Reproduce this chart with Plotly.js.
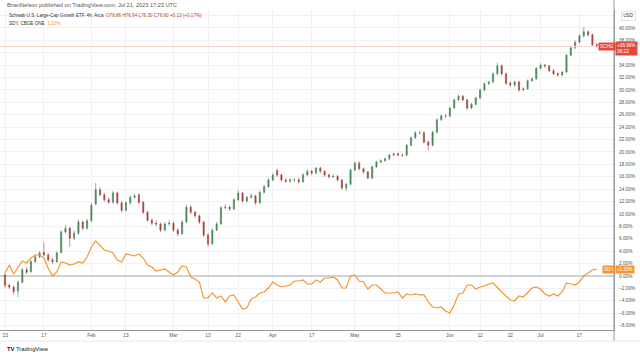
<!DOCTYPE html>
<html><head><meta charset="utf-8">
<script src="https://cdn.plot.ly/plotly-3.0.1.min.js"></script>
<style>html,body{margin:0;padding:0;background:#fff}#chart{width:640px;height:355px}</style>
</head><body><div id="chart"></div>
<script>
const dates = [
'2023-01-03','2023-01-04','2023-01-05','2023-01-06','2023-01-09','2023-01-10','2023-01-11','2023-01-12','2023-01-13','2023-01-17',
'2023-01-18','2023-01-19','2023-01-20','2023-01-23','2023-01-24','2023-01-25','2023-01-26','2023-01-27','2023-01-30','2023-01-31',
'2023-02-01','2023-02-02','2023-02-03','2023-02-06','2023-02-07','2023-02-08','2023-02-09','2023-02-10','2023-02-13','2023-02-14',
'2023-02-15','2023-02-16','2023-02-17','2023-02-21','2023-02-22','2023-02-23','2023-02-24','2023-02-27','2023-02-28',
'2023-03-01','2023-03-02','2023-03-03','2023-03-06','2023-03-07','2023-03-08','2023-03-09','2023-03-10','2023-03-13','2023-03-14',
'2023-03-15','2023-03-16','2023-03-17','2023-03-20','2023-03-21','2023-03-22','2023-03-23','2023-03-24','2023-03-27','2023-03-28',
'2023-03-29','2023-03-30','2023-03-31',
'2023-04-03','2023-04-04','2023-04-05','2023-04-06','2023-04-10','2023-04-11','2023-04-12','2023-04-13','2023-04-14','2023-04-17',
'2023-04-18','2023-04-19','2023-04-20','2023-04-21','2023-04-24','2023-04-25','2023-04-26','2023-04-27','2023-04-28',
'2023-05-01','2023-05-02','2023-05-03','2023-05-04','2023-05-05','2023-05-08','2023-05-09','2023-05-10','2023-05-11','2023-05-12',
'2023-05-15','2023-05-16','2023-05-17','2023-05-18','2023-05-19','2023-05-22','2023-05-23','2023-05-24','2023-05-25','2023-05-26',
'2023-05-30','2023-05-31',
'2023-06-01','2023-06-02','2023-06-05','2023-06-06','2023-06-07','2023-06-08','2023-06-09','2023-06-12','2023-06-13','2023-06-14',
'2023-06-15','2023-06-16','2023-06-20','2023-06-21','2023-06-22','2023-06-23','2023-06-26','2023-06-27','2023-06-28','2023-06-29',
'2023-06-30',
'2023-07-03','2023-07-05','2023-07-06','2023-07-07','2023-07-10','2023-07-11','2023-07-12','2023-07-13','2023-07-14','2023-07-17',
'2023-07-18','2023-07-19','2023-07-20','2023-07-21'];

const schgOpen = [
0.2,-1.5,-1.8,-2.4,-1.0,1.0,0.7,2.3,3.1,3.8,
3.4,2.6,2.3,3.8,7.1,7.7,6.1,6.9,8.7,7.7,
8.9,11.6,13.9,13.1,12.3,11.9,13.4,11.8,10.6,11.8,
12.7,13.1,11.9,10.3,9.0,8.5,8.4,7.4,8.4,
8.5,7.4,6.8,8.7,11.1,10.3,9.7,8.7,6.6,5.2,
7.4,8.4,11.0,11.1,10.8,12.3,13.4,12.1,12.7,12.9,
11.8,13.5,14.4,
15.5,17.0,16.3,15.5,15.3,15.5,15.5,15.2,16.3,16.9,
16.6,17.4,16.9,16.3,16.0,16.1,15.5,14.2,14.8,
17.1,18.2,17.3,16.8,15.8,17.6,18.4,18.6,18.9,19.5,
19.7,19.5,19.5,21.1,22.3,23.1,23.1,21.6,21.1,23.2,
25.2,25.8,
25.8,27.1,28.4,29.0,28.4,27.1,27.7,28.7,30.0,31.0,
31.3,32.6,33.9,32.6,31.1,30.8,31.3,30.0,30.2,31.5,
31.8,
33.5,34.0,33.9,33.1,32.6,32.4,32.9,35.6,36.8,37.7,
38.7,39.4,38.9,37.3];

const schgHigh = [
0.4,-1.2,-1.5,-0.7,1.3,1.4,2.6,3.4,4.0,5.4,
3.7,2.9,4.0,7.4,8.2,7.9,7.3,9.1,8.9,9.2,
11.8,15.0,14.3,13.4,12.6,13.7,13.6,12.0,12.1,13.0,
13.3,13.3,12.1,10.5,9.3,9.0,8.6,8.7,9.0,
8.8,7.7,9.0,11.5,11.4,10.5,9.9,8.9,6.9,7.7,
8.7,11.3,11.6,11.4,12.6,13.8,13.6,12.9,13.3,13.1,
13.7,14.7,15.8,
16.6,17.3,16.5,15.8,15.8,15.8,15.9,16.6,17.2,17.1,
17.6,17.6,17.0,16.5,16.4,16.3,15.6,15.0,17.3,
18.5,18.5,17.5,16.9,17.8,18.6,18.8,19.1,19.7,19.9,
19.9,19.7,21.3,22.5,23.4,23.4,23.3,21.8,23.4,25.4,
26.1,26.1,
27.3,28.6,29.3,29.2,28.6,27.9,28.9,30.2,31.2,31.5,
32.8,34.4,34.1,32.8,31.4,31.5,31.5,30.5,31.7,32.0,
33.7,
34.3,34.2,34.0,33.4,32.8,33.1,35.8,37.0,38.0,39.0,
40.2,39.6,39.1,37.6];

const schgLow = [
-1.9,-2.1,-3.0,-3.4,-1.2,0.3,0.5,2.1,2.9,3.2,
2.3,1.9,2.1,3.6,6.8,4.7,5.8,6.6,7.4,7.5,
8.7,11.4,12.8,12.0,11.6,11.7,11.5,10.3,10.4,11.5,
12.4,11.6,10.0,8.8,8.2,8.0,7.1,7.2,8.1,
7.1,6.4,6.6,8.5,10.0,9.4,8.4,6.3,4.7,5.0,
7.2,8.2,10.7,10.5,10.6,12.1,11.8,11.9,12.5,11.5,
11.6,13.3,14.2,
15.3,16.0,15.2,15.0,15.0,15.2,14.9,15.0,16.1,16.3,
16.4,16.6,16.0,15.7,15.8,15.2,13.9,13.7,14.6,
16.9,17.0,16.5,15.6,15.6,17.4,18.2,18.4,18.7,19.3,
19.3,19.2,19.3,20.9,22.1,22.8,21.4,20.3,20.9,23.0,
25.0,25.5,
25.6,26.9,28.2,28.2,26.8,26.9,27.5,28.5,29.8,30.8,
31.1,32.4,32.3,30.8,30.5,30.5,29.7,29.8,30.0,31.3,
31.6,
33.3,33.6,32.9,32.4,32.2,32.2,32.7,35.4,36.6,37.5,
38.5,38.6,37.1,36.8];

const schgClose = [
-1.5,-1.8,-2.5,-1.0,1.0,0.6,2.3,3.1,3.7,3.4,
2.6,2.3,3.7,7.1,7.7,6.1,6.9,8.7,7.7,8.9,
11.4,13.9,13.1,12.3,11.9,13.4,11.8,10.6,11.8,12.7,
12.9,11.9,10.3,9.0,8.5,8.4,7.4,8.4,8.5,
7.4,6.8,8.7,11.1,10.3,9.7,8.7,6.6,5.2,7.4,
8.4,11.0,11.1,10.8,12.3,13.4,12.1,12.7,12.9,11.8,
13.5,14.4,15.5,
16.3,16.3,15.5,15.3,15.5,15.5,15.2,16.3,16.9,16.6,
17.4,16.9,16.3,16.0,16.1,15.5,14.2,14.8,17.1,
18.2,17.3,16.8,15.8,17.6,18.4,18.6,18.9,19.5,19.7,
19.5,19.5,21.1,22.3,23.1,23.1,21.6,21.1,23.2,25.2,
25.8,25.8,
27.1,28.4,29.0,28.4,27.1,27.7,28.7,30.0,31.0,31.3,
32.6,33.9,32.6,31.1,30.8,31.3,30.0,30.2,31.5,31.8,
33.5,
34.0,33.9,33.1,32.6,32.4,32.9,35.6,36.8,37.7,38.7,
39.4,38.9,37.3,37.0];

const sdyPct = [
0.48,1.77,0.32,1.29,2.42,2.10,2.90,3.39,3.39,2.90,
1.29,0.00,0.65,2.26,2.10,1.77,1.94,2.26,2.10,3.06,
4.68,5.65,5.00,4.19,4.03,3.71,2.58,2.26,3.55,3.39,
3.23,3.55,2.90,1.77,1.45,0.81,0.97,1.13,0.65,
0.16,0.65,1.61,1.45,-0.16,-0.48,-0.97,-3.55,-3.55,-2.74,
-3.55,-3.23,-4.19,-3.23,-3.06,-4.19,-5.32,-5.16,-3.71,-3.39,
-2.74,-2.58,-1.94,
-0.97,-1.45,-1.77,-1.61,-1.45,-0.81,-0.81,-0.65,-1.29,-1.29,
-0.65,-0.97,-0.32,-0.32,-0.16,-0.65,-1.94,-1.94,0.00,
0.16,-0.81,-0.97,-2.10,-1.45,-1.45,-2.10,-2.74,-2.74,-2.74,
-2.58,-3.55,-2.90,-3.06,-2.90,-3.06,-3.06,-4.19,-5.00,-5.16,
-5.00,-5.65,
-5.97,-4.68,-2.90,-2.74,-1.45,-1.45,-2.10,-1.77,-1.61,-1.29,
-1.13,-1.94,-2.58,-3.23,-3.87,-4.03,-3.23,-3.39,-2.58,-1.94,
-1.77,
-2.10,-2.90,-3.23,-2.90,-3.23,-2.58,-1.13,-1.29,-1.45,-0.97,
0.00,0.48,0.97,1.10];

const xTickDates = ['2023-01-03','2023-01-17','2023-02-01','2023-02-13','2023-03-01','2023-03-13','2023-03-22','2023-04-03',
  '2023-04-17','2023-05-01','2023-05-15','2023-06-01','2023-06-12','2023-06-22','2023-07-03','2023-07-17'];
const xTickLabels = ["'23",'17','Feb','13','Mar','13','22','Apr','17','May','15','Jun','12','22','Jul','17'];
const yTickVals = [-8,-6,-4,-2,0,2,4,6,8,10,12,14,16,18,20,22,24,26,28,30,32,34,36,38,40,42,44];
const yTickLabels = ['\u22128.00%','\u22126.00%','\u22124.00%','\u22122.00%','0.00%','2.00%','4.00%','6.00%','8.00%','10.00%',
  '12.00%','14.00%','16.00%','18.00%','20.00%','22.00%','24.00%','26.00%','28.00%','30.00%','32.00%','34.00%','','38.00%','40.00%','',''];

const lastSchg = schgClose[schgClose.length-1];
const lastSdy = sdyPct[sdyPct.length-1];

const UP = '#4a855a', DN = '#a0453b', ORANGE = '#f7962f', RED = '#e04b3b';

const traces = [
  {type:'candlestick', x:dates, open:schgOpen, high:schgHigh, low:schgLow, close:schgClose,
   increasing:{line:{color:UP,width:0.6}, fillcolor:UP},
   decreasing:{line:{color:DN,width:0.6}, fillcolor:DN},
   whiskerwidth:0, hoverinfo:'skip', showlegend:false},
  {type:'scatter', mode:'lines', x:dates, y:sdyPct, line:{color:ORANGE,width:1.2},
   hoverinfo:'skip', showlegend:false}
];

const W = 614, T = 10, B = 330, H = B - T;
const px = v => v / W;
const py = v => (B - v) / H;
const F = '"Liberation Sans", Arial, sans-serif';

const layout = {
  width:640, height:355,
  margin:{l:0, r:26, t:10, b:25},
  paper_bgcolor:'#ffffff', plot_bgcolor:'#ffffff',
  showlegend:false,
  boxgap:0.6,
  xaxis:{type:'category', range:[-1.16, 141.0], rangeslider:{visible:false},
    tickmode:'array', tickvals:xTickDates, ticktext:xTickLabels,
    showgrid:true, gridcolor:'#f0f1f4', gridwidth:1,
    showline:true, linecolor:'#9598a1', linewidth:1,
    ticks:'', tickfont:{family:F, size:4.8, color:'#555'}, fixedrange:true},
  yaxis:{side:'right', range:[-8.71, 42.9], tickmode:'array', tickvals:yTickVals, ticktext:yTickLabels,
    showgrid:true, gridcolor:'#f0f1f4', gridwidth:1,
    zeroline:true, zerolinecolor:'#cfd2d8', zerolinewidth:1.5,
    showline:true, linecolor:'#9598a1', linewidth:1, mirror:false,
    ticks:'', tickfont:{family:F, size:4.8, color:'#555'}, ticklabelstandoff:3, fixedrange:true},
  shapes:[
    {type:'line', xref:'paper', yref:'y', x0:0, x1:1, y0:lastSchg, y1:lastSchg, line:{color:'#f8d3cf', width:1}},
    {type:'line', xref:'paper', yref:'paper', x0:px(614), x1:px(614), y0:py(341), y1:py(0), line:{color:'#9598a1', width:1}},
    {type:'line', xref:'paper', yref:'paper', x0:0, x1:px(640), y0:py(341), y1:py(341), line:{color:'#e6e8ee', width:1}}
  ],
  annotations:[
    {xref:'paper', yref:'paper', x:px(5), y:py(5), xanchor:'left', yanchor:'middle', showarrow:false,
     text:'BrianNelson published on TradingView.com, Jul 21, 2023 17:23 UTC', font:{family:F, size:5.6, color:'#555'}},
    {xref:'paper', yref:'paper', x:px(7), y:py(15), xanchor:'left', yanchor:'middle', showarrow:false,
     text:'Schwab U.S. Large-Cap Growth ETF, 4h, Arca  <span style="color:#b0473d">O76.86 H76.94 L76.30 C76.60 +0.13 (+0.17%)</span>',
     font:{family:F, size:4.6, color:'#333'}},
    {xref:'paper', yref:'paper', x:px(7), y:py(23), xanchor:'left', yanchor:'middle', showarrow:false,
     text:'SDY, CBOE ONE  <span style="color:'+ORANGE+'">'+lastSdy.toFixed(2)+'%</span>',
     font:{family:F, size:4.6, color:'#333'}},
    {xref:'paper', yref:'paper', x:px(628), y:py(16.5), xanchor:'center', yanchor:'middle', showarrow:false,
     text:'USD', font:{family:F, size:4.6, color:'#333'}, bgcolor:'#ffffff', bordercolor:'#d8dbe2', borderwidth:0.8, borderpad:1.5},
    {xref:'paper', yref:'y', x:px(607), y:lastSchg, xanchor:'center', yanchor:'middle', showarrow:false,
     text:'SCHG', font:{family:F, size:4.6, color:'#ffffff'}, bgcolor:RED, borderpad:1},
    {xref:'paper', yref:'y', x:px(615), y:lastSchg-0.25, xanchor:'left', yanchor:'middle', showarrow:false, align:'left',
     text:'+36.99%<br>06:22', font:{family:F, size:4.6, color:'#ffffff'}, bgcolor:RED, borderpad:1.2},
    {xref:'paper', yref:'y', x:px(608), y:lastSdy, xanchor:'center', yanchor:'middle', showarrow:false,
     text:'SDY', font:{family:F, size:4.6, color:'#ffffff'}, bgcolor:ORANGE, borderpad:1},
    {xref:'paper', yref:'y', x:px(615), y:lastSdy, xanchor:'left', yanchor:'middle', showarrow:false,
     text:'+'+lastSdy.toFixed(2)+'%', font:{family:F, size:4.6, color:'#ffffff'}, bgcolor:ORANGE, borderpad:1},
    {xref:'paper', yref:'paper', x:px(5), y:py(349), xanchor:'left', yanchor:'middle', showarrow:false,
     text:'<b>TV</b> TradingView', font:{family:F, size:5.8, color:'#131722'}}
  ]
};

Plotly.newPlot('chart', traces, layout, {staticPlot:true, displayModeBar:false});
</script>
</body></html>
